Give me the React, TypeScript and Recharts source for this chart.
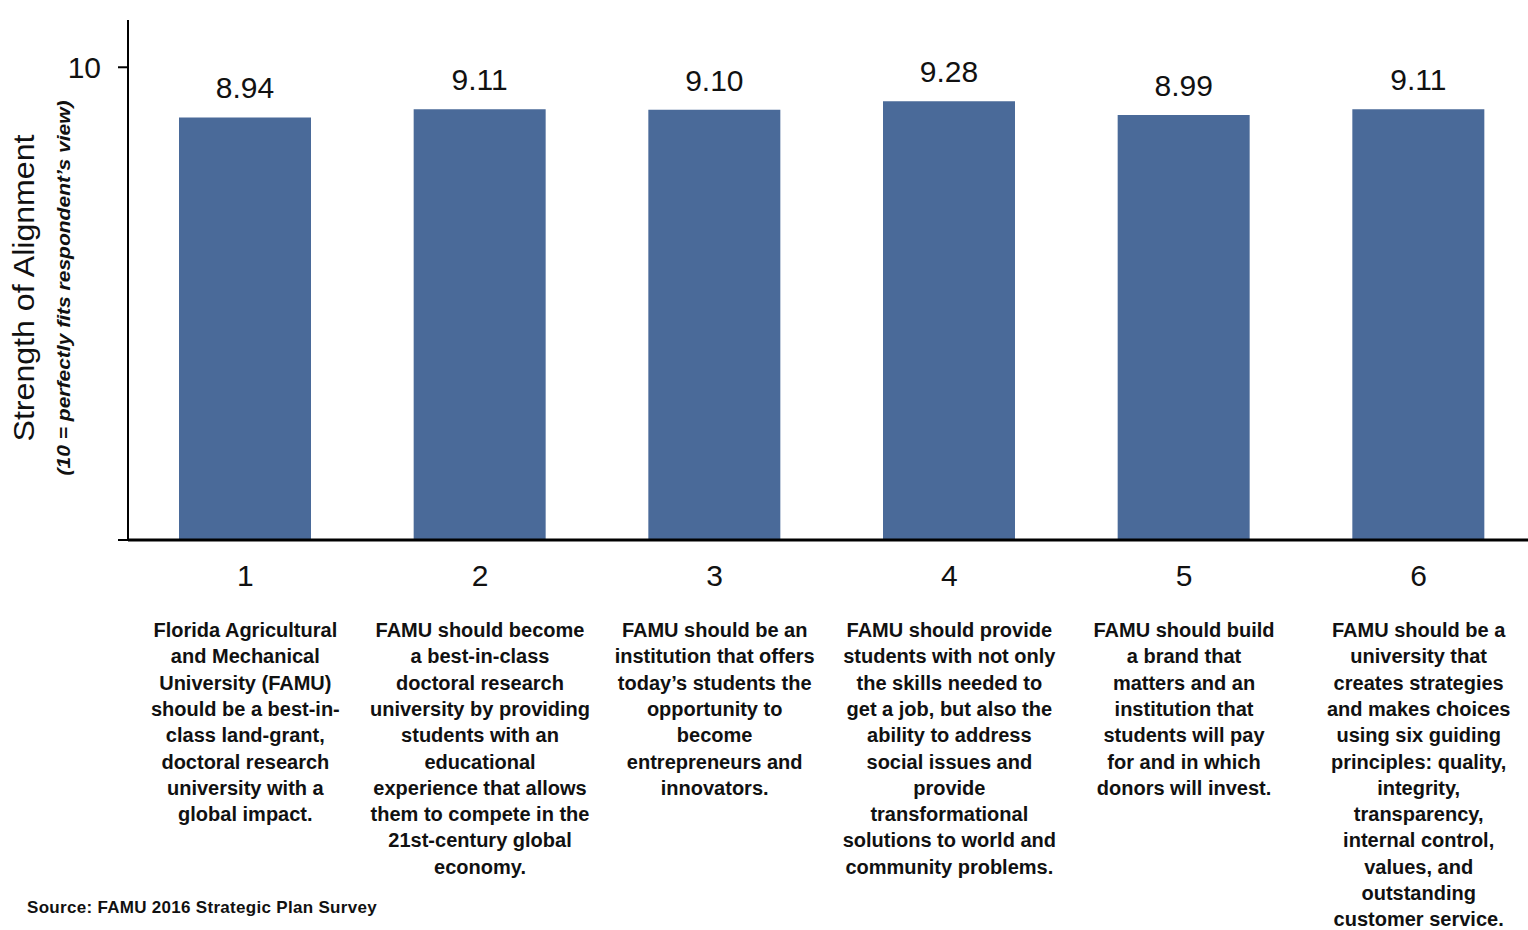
import React from 'react'
import { BarChart, Bar, XAxis, YAxis, LabelList, Label } from 'recharts'

const categories = ['1', '2', '3', '4', '5', '6']
const scores = [8.94, 9.11, 9.1, 9.28, 8.99, 9.11]
const yTicks = [0, 10]

const descriptions: string[][] = [
  [
    'Florida Agricultural',
    'and Mechanical',
    'University (FAMU)',
    'should be a best-in-',
    'class land-grant,',
    'doctoral research',
    'university with a',
    'global impact.',
  ],
  [
    'FAMU should become',
    'a best-in-class',
    'doctoral research',
    'university by providing',
    'students with an',
    'educational',
    'experience that allows',
    'them to compete in the',
    '21st-century global',
    'economy.',
  ],
  [
    'FAMU should be an',
    'institution that offers',
    'today’s students the',
    'opportunity to',
    'become',
    'entrepreneurs and',
    'innovators.',
  ],
  [
    'FAMU should provide',
    'students with not only',
    'the skills needed to',
    'get a job, but also the',
    'ability to address',
    'social issues and',
    'provide',
    'transformational',
    'solutions to world and',
    'community problems.',
  ],
  [
    'FAMU should build',
    'a brand that',
    'matters and an',
    'institution that',
    'students will pay',
    'for and in which',
    'donors will invest.',
  ],
  [
    'FAMU should be a',
    'university that',
    'creates strategies',
    'and makes choices',
    'using six guiding',
    'principles: quality,',
    'integrity,',
    'transparency,',
    'internal control,',
    'values, and',
    'outstanding',
    'customer service.',
  ],
]

const data = categories.map((name, i) => ({ name, score: scores[i] }))

const FONT = '"Liberation Sans", Arial, Helvetica, sans-serif'
const INK = '#111'
const BAR = '#4a6a99'

function CategoryTick({ x, y, payload }: any) {
  const lines = descriptions[categories.indexOf(String(payload.value))] ?? []
  return (
    <g transform={`translate(${x},${y})`} fontFamily={FONT} fill={INK}>
      <text y={46} textAnchor="middle" fontSize={30}>
        {payload.value}
      </text>
      <text y={97} textAnchor="middle" fontSize={20} fontWeight="bold">
        {lines.map((l, i) => (
          <tspan key={i} x={0} dy={i === 0 ? 0 : 26.3}>
            {l}
          </tspan>
        ))}
      </text>
    </g>
  )
}

function ValueLabel({ x, y, width, value }: any) {
  return (
    <text
      x={x + width / 2}
      y={y - 19}
      textAnchor="middle"
      fontSize={30}
      fill={INK}
      fontFamily={FONT}
    >
      {Number(value).toFixed(2)}
    </text>
  )
}

function YTitle() {
  return (
    <g fontFamily={FONT} fill={INK}>
      <text
        transform="translate(34,288) rotate(-90)"
        textAnchor="middle"
        fontSize={29}
        textLength={307}
        lengthAdjust="spacingAndGlyphs"
      >
        Strength of Alignment
      </text>
      <text
        transform="translate(70,288) rotate(-90)"
        textAnchor="middle"
        fontSize={18}
        fontStyle="italic"
        fontWeight="bold"
        textLength={375}
        lengthAdjust="spacingAndGlyphs"
      >
        (10 = perfectly fits respondent’s view)
      </text>
    </g>
  )
}

export default function App() {
  return (
    <div
      style={{
        position: 'fixed',
        left: 0,
        top: 0,
        width: 1528,
        height: 930,
        overflow: 'hidden',
        background: '#fff',
      }}
    >
      <BarChart
        width={1536}
        height={930}
        data={data}
        margin={{ top: 20, right: 0, bottom: 0, left: 0 }}
      >
        <XAxis
          dataKey="name"
          height={390}
          interval={0}
          tickLine={false}
          tickSize={0}
          tickMargin={0}
          axisLine={{ stroke: '#000', strokeWidth: 3 }}
          tick={<CategoryTick />}
        />
        <YAxis
          width={128}
          domain={[0, 11]}
          ticks={yTicks}
          tickSize={10}
          tickMargin={17}
          tickFormatter={(v: number) => (v === 0 ? '' : String(v))}
          axisLine={{ stroke: '#000', strokeWidth: 2 }}
          tickLine={{ stroke: '#000', strokeWidth: 2 }}
          tick={{ fill: INK, fontSize: 30, fontFamily: FONT }}
        >
          <Label content={<YTitle />} />
        </YAxis>
        <Bar dataKey="score" fill={BAR} barSize={132} isAnimationActive={false}>
          <LabelList dataKey="score" content={<ValueLabel />} />
        </Bar>
      </BarChart>
      <div
        style={{
          position: 'absolute',
          left: 27,
          top: 898,
          fontFamily: FONT,
          fontSize: 17,
          fontWeight: 'bold',
          letterSpacing: '0.3px',
          lineHeight: '19px',
          color: INK,
          whiteSpace: 'nowrap',
        }}
      >
        Source: FAMU 2016 Strategic Plan Survey
      </div>
    </div>
  )
}
